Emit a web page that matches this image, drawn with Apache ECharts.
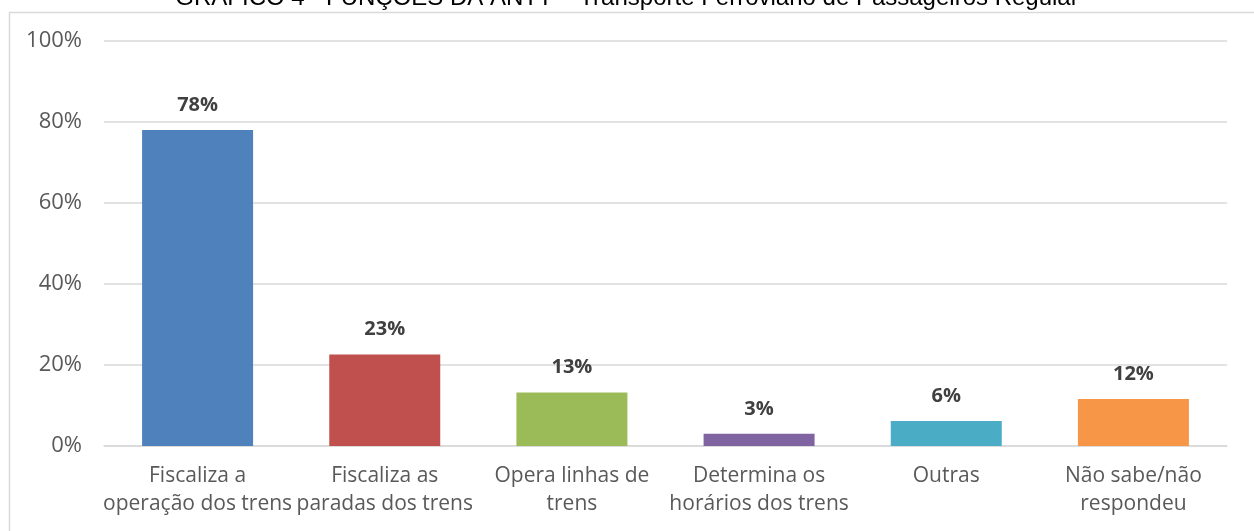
<!DOCTYPE html>
<html>
<head>
<meta charset="utf-8">
<script src="https://cdn.jsdelivr.net/npm/echarts@6/dist/echarts.min.js"></script>
<style>
html,body{margin:0;padding:0;background:#fff;}
#chart{width:1254px;height:531px;}
</style>
</head>
<body>
<div id="chart"></div>
<script>
const titleText = 'GRÁFICO 4 - FUNÇÕES DA ANTT – Transporte Ferroviário de Passageiros Regular';
const categories = ['Fiscaliza a\noperação dos trens', 'Fiscaliza as\nparadas dos trens', 'Opera linhas de\ntrens', 'Determina os\nhorários dos trens', 'Outras', 'Não sabe/não\nrespondeu'];
const values = [78, 22.6, 13.2, 3.0, 6.2, 11.6];
const barColors = ['#4F81BD', '#C0504D', '#9BBB59', '#8064A2', '#4BACC6', '#F79646'];
const yTicks = [0, 20, 40, 60, 80, 100];

const font = '"Open Sans", "Noto Sans", sans-serif';
const chart = echarts.init(document.getElementById('chart'), null, {renderer: 'canvas'});
chart.setOption({
  animation: false,
  backgroundColor: '#ffffff',
  title: {
    text: titleText,
    left: 'center',
    top: -19,
    textStyle: {fontFamily: '"Liberation Sans", Arial, sans-serif', fontSize: 24, fontWeight: 'normal', color: '#000000'}
  },
  graphic: [{
    type: 'rect',
    silent: true,
    shape: {x: 9.5, y: 12.5, width: 1400, height: 700},
    style: {fill: 'none', stroke: '#d9d9d9', lineWidth: 1.5}
  }],
  grid: {left: 104, right: 27, top: 41, bottom: 85, containLabel: false},
  xAxis: {
    type: 'category',
    data: categories,
    axisLine: {show: true, lineStyle: {color: '#d9d9d9', width: 1.5}},
    axisTick: {show: false},
    axisLabel: {color: '#595959', fontFamily: font, fontSize: 21, lineHeight: 28, margin: 16, interval: 0}
  },
  yAxis: {
    type: 'value',
    min: yTicks[0],
    max: yTicks[yTicks.length - 1],
    interval: 20,
    axisLine: {show: false},
    axisTick: {show: false},
    splitLine: {lineStyle: {color: '#d9d9d9', width: 1.5}},
    axisLabel: {color: '#595959', fontFamily: font, fontSize: 22, margin: 22, formatter: '{value}%'}
  },
  series: [{
    type: 'bar',
    data: values.map((v, i) => ({value: v, itemStyle: {color: barColors[i]}})),
    barWidth: '59.3%',
    label: {
      show: true,
      position: 'top',
      distance: 15,
      color: '#404040',
      fontFamily: font,
      fontSize: 20,
      fontWeight: 'bold',
      formatter: p => Math.round(p.value) + '%'
    }
  }]
});
</script>
</body>
</html>
